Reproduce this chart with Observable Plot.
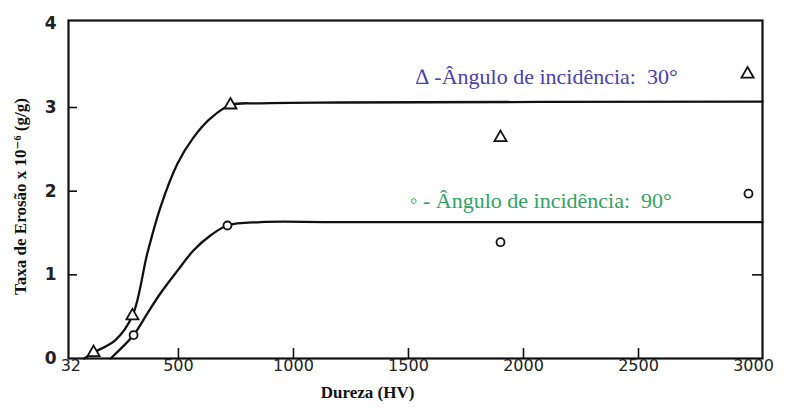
<!DOCTYPE html>
<html>
<head>
<meta charset="utf-8">
<script src="https://cdn.jsdelivr.net/npm/d3@7"></script>
<script src="https://cdn.jsdelivr.net/npm/@observablehq/plot@0.6"></script>
<style>
  html, body { margin: 0; padding: 0; background: #fff; }
  #chart svg { display: block; }
</style>
</head>
<body>
<div id="chart"></div>
<script>
// Measured points (angle of incidence 30° = triangles, 90° = circles)
const hardness30 = [131, 300, 726, 1900, 2974];
const rate30     = [0.07, 0.51, 3.03, 2.64, 3.40];
const hardness90 = [305, 713, 1900, 2978];
const rate90     = [0.28, 1.59, 1.39, 1.97];

// Fitted curves
const curve30X = [90, 131, 226, 300, 365, 422, 496, 565, 639, 726, 857, 1200, 3039];
const curve30Y = [0, 0.07, 0.22, 0.51, 1.26, 1.81, 2.33, 2.64, 2.87, 3.03, 3.05, 3.06, 3.07];
const curve90X = [205, 305, 365, 422, 496, 565, 639, 713, 857, 1200, 3039];
const curve90Y = [0, 0.28, 0.54, 0.78, 1.05, 1.29, 1.47, 1.59, 1.63, 1.63, 1.63];

// Axis ticks
const xTicks = [32, 500, 1000, 1500, 2000, 2500, 3000];
const xTickMarks = [500, 1000, 1500, 2000, 2500];
const yTicks = [0, 1, 2, 3, 4];

// Labels
const xLabel = "Dureza (HV)";
const yLabel = "Taxa de Erosão x 10⁻⁶ (g/g)";
const legend30 = "∆ -Ângulo de incidência:  30°";
const legend90 = "◦ - Ângulo de incidência:  90°";
const legendPos = [
  {label: legend30, hardness: 1530, rate: 3.36, color: "#4a40b0"},
  {label: legend90, hardness: 1505, rate: 1.88, color: "#2fa362"}
];

const W = 794, H = 410;
const mL = 68, mR = 32, mT = 20, mB = 52;
const plotW = W - mL - mR, plotH = H - mT - mB;

const pts30 = hardness30.map((x, i) => ({x, y: rate30[i]}));
const pts90 = hardness90.map((x, i) => ({x, y: rate90[i]}));
const c30 = curve30X.map((x, i) => ({x, y: curve30Y[i]}));
const c90 = curve90X.map((x, i) => ({x, y: curve90Y[i]}));

const tickFont = "DejaVu Sans";
const serif = "'Liberation Serif', 'DejaVu Serif', serif";

const chart = Plot.plot({
  width: W,
  height: H,
  marginLeft: mL,
  marginRight: mR,
  marginTop: mT,
  marginBottom: mB,
  x: {domain: [22, 3039], axis: null},
  y: {domain: [0, 4.04], axis: null},
  marks: [
    Plot.line(c30, {x: "x", y: "y", curve: "catmull-rom", stroke: "#111", strokeWidth: 2.3}),
    Plot.line(c90, {x: "x", y: "y", curve: "catmull-rom", stroke: "#111", strokeWidth: 2.3}),
    Plot.dot(pts30, {x: "x", y: "y", symbol: "triangle", r: 4.5, fill: "white", stroke: "#111", strokeWidth: 1.8}),
    Plot.dot(pts90, {x: "x", y: "y", symbol: "circle", r: 4, fill: "white", stroke: "#111", strokeWidth: 1.8}),
    // inward tick marks
    Plot.tickX(xTickMarks, {x: d => d, insetTop: plotH - 10, stroke: "#111", strokeWidth: 1.6}),
    Plot.tickY(yTicks.slice(1, 4), {y: d => d, insetRight: plotW - 9, stroke: "#111", strokeWidth: 1.6}),
    Plot.tickY([1], {y: d => d, insetLeft: plotW - 10, stroke: "#111", strokeWidth: 1.6}),
    Plot.frame({stroke: "#111", strokeWidth: 2.2}),
    // tick labels
    Plot.text(xTicks, {x: d => d, text: d => String(d), frameAnchor: "bottom", dy: 12, fontSize: 16, fontFamily: tickFont, fill: "#222", letterSpacing: -1}),
    Plot.text(yTicks, {y: d => d, text: d => String(d), frameAnchor: "left", dx: -12, textAnchor: "end", fontSize: 17, fontWeight: "bold", fontFamily: tickFont, fill: "#222"}),
    // axis titles
    Plot.text([xLabel], {frameAnchor: "bottom", textAnchor: "middle", dx: -48, dy: 39, fontSize: 17, fontWeight: "bold", fontFamily: serif, fill: "#111"}),
    Plot.text([yLabel], {frameAnchor: "left", textAnchor: "middle", dx: -48, dy: 7, rotate: -90, fontSize: 17, fontWeight: "bold", fontFamily: serif, fill: "#111"}),
    // legend annotations
    Plot.text(legendPos, {x: "hardness", y: "rate", text: "label", fill: "color", textAnchor: "start", fontSize: 22, fontFamily: serif})
  ]
});

document.getElementById("chart").appendChild(chart);
</script>
</body>
</html>
